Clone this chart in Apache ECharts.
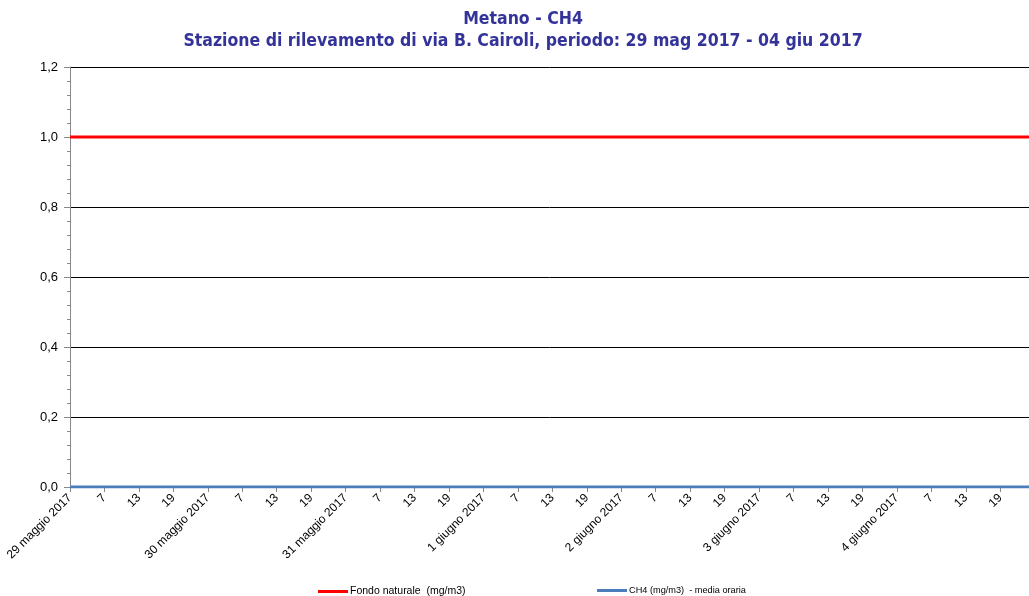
<!DOCTYPE html>
<html><head><meta charset="utf-8">
<script src="https://cdn.jsdelivr.net/npm/echarts@6/dist/echarts.min.js"></script>
<style>html,body{margin:0;padding:0;background:#fff}#c{width:1029px;height:596px}</style>
</head><body><div id="c"></div>
<script>
const days = ['29 maggio 2017','30 maggio 2017','31 maggio 2017','1 giugno 2017','2 giugno 2017','3 giugno 2017','4 giugno 2017'];
const hours = [1,2,3,4,5,6,7,8,9,10,11,12,13,14,15,16,17,18,19,20,21,22,23,24];
const yTicks = [0,0.2,0.4,0.6,0.8,1.0,1.2];
const fondoNaturale = [
1,1,1,1,1,1,1,1,1,1,1,1,1,1,1,1,1,1,1,1,1,1,1,1,
1,1,1,1,1,1,1,1,1,1,1,1,1,1,1,1,1,1,1,1,1,1,1,1,
1,1,1,1,1,1,1,1,1,1,1,1,1,1,1,1,1,1,1,1,1,1,1,1,
1,1,1,1,1,1,1,1,1,1,1,1,1,1,1,1,1,1,1,1,1,1,1,1,
1,1,1,1,1,1,1,1,1,1,1,1,1,1,1,1,1,1,1,1,1,1,1,1,
1,1,1,1,1,1,1,1,1,1,1,1,1,1,1,1,1,1,1,1,1,1,1,1,
1,1,1,1,1,1,1,1,1,1,1,1,1,1,1,1,1,1,1,1,1,1,1,1];
const ch4 = [
0,0,0,0,0,0,0,0,0,0,0,0,0,0,0,0,0,0,0,0,0,0,0,0,
0,0,0,0,0,0,0,0,0,0,0,0,0,0,0,0,0,0,0,0,0,0,0,0,
0,0,0,0,0,0,0,0,0,0,0,0,0,0,0,0,0,0,0,0,0,0,0,0,
0,0,0,0,0,0,0,0,0,0,0,0,0,0,0,0,0,0,0,0,0,0,0,0,
0,0,0,0,0,0,0,0,0,0,0,0,0,0,0,0,0,0,0,0,0,0,0,0,
0,0,0,0,0,0,0,0,0,0,0,0,0,0,0,0,0,0,0,0,0,0,0,0,
0,0,0,0,0,0,0,0,0,0,0,0,0,0,0,0,0,0,0,0,0,0,0,0];
const categories = [];
days.forEach(d => hours.forEach(h => categories.push(h === 1 ? d : String(h))));

const chart = echarts.init(document.getElementById('c'), null, {renderer:'canvas'});
const titleColor = '#333399';
chart.setOption({
  animation:false,
  backgroundColor:'#fff',
  title:{
    text:'Metano - CH4\nStazione di rilevamento di via B. Cairoli, periodo: 29 mag 2017 - 04 giu 2017',
    left:523, top:8, padding:0, textAlign:'center',
    textStyle:{fontFamily:'DejaVu Sans Condensed', fontWeight:'bold', fontSize:17.5, color:titleColor, lineHeight:22, align:'center'}
  },
  legend:[
    {data:[{name:'Fondo naturale  (mg/m3)'}], left:318, top:586, itemWidth:30, itemHeight:3, icon:'rect',
     textStyle:{fontSize:10.5, fontFamily:'Liberation Sans', color:'#000', padding:[0,0,0,-3]}, padding:0},
    {data:[{name:'CH4 (mg/m3)  - media oraria'}], left:597, top:586, itemWidth:30, itemHeight:3, icon:'rect',
     textStyle:{fontSize:9.2, fontFamily:'Liberation Sans', color:'#000', padding:[0,0,0,-3]}, padding:0}
  ],
  grid:{left:70, right:-8, top:67, bottom:109, containLabel:false},
  xAxis:{
    type:'category', data:categories, boundaryGap:false,
    axisLine:{show:true, lineStyle:{color:'#888', width:1}},
    axisTick:{show:true, interval:5, length:5, lineStyle:{color:'#888'}},
    axisLabel:{interval:5, rotate:45, fontSize:12, fontFamily:'Liberation Sans', color:'#000', margin:9},
    splitLine:{show:false}
  },
  yAxis:{
    type:'value', min:0, max:1.2, interval:0.2,
    axisLine:{show:true, lineStyle:{color:'#888', width:1}},
    axisTick:{show:true, length:6, lineStyle:{color:'#888'}},
    minorTick:{show:true, splitNumber:5, length:3, lineStyle:{color:'#888'}},
    axisLabel:{fontSize:13, fontFamily:'Liberation Sans', color:'#000', margin:12,
      formatter: v => { const t = yTicks.find(x => Math.abs(x - v) < 1e-9); return (t !== undefined ? t : v).toFixed(1).replace('.', ','); }},
    splitLine:{show:true, lineStyle:{color:'#000', width:1}}
  },
  series:[
    {name:'Fondo naturale  (mg/m3)', type:'line', data:fondoNaturale, showSymbol:false, symbol:'none',
     lineStyle:{color:'#ff0000', width:3}, itemStyle:{color:'#ff0000'}, z:3},
    {name:'CH4 (mg/m3)  - media oraria', type:'line', data:ch4, showSymbol:false, symbol:'none',
     lineStyle:{color:'#4a7ebb', width:3}, itemStyle:{color:'#4a7ebb'}, z:4}
  ]
});
</script></body></html>
